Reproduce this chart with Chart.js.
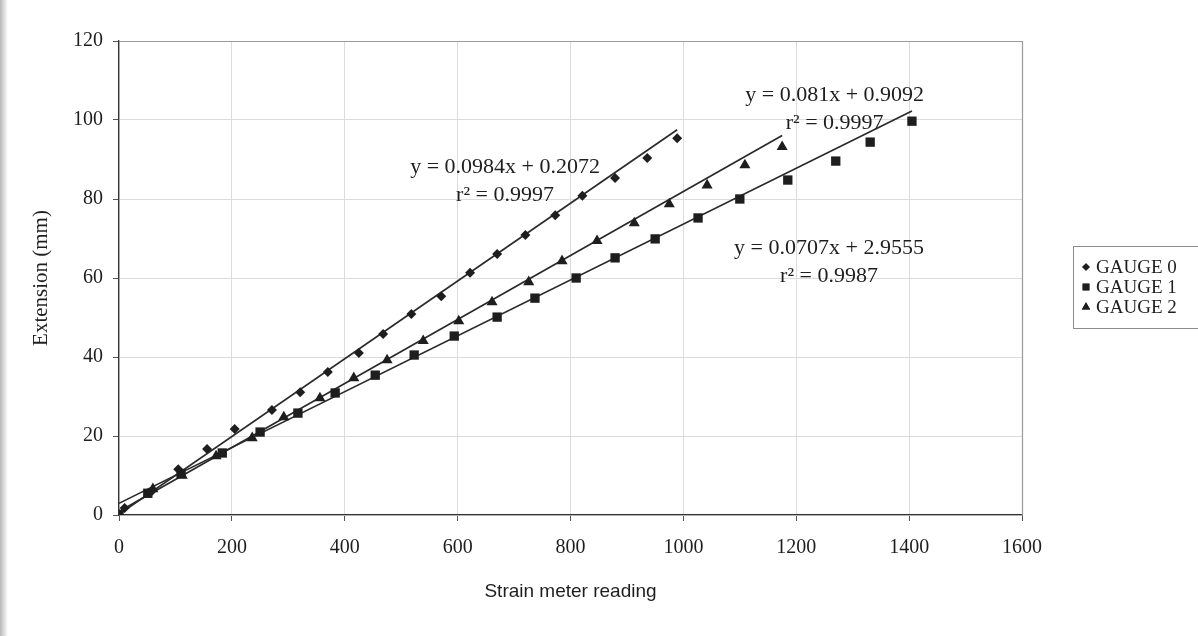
<!DOCTYPE html>
<html>
<head>
<meta charset="utf-8">
<script src="https://cdn.jsdelivr.net/npm/chart.js@4.4.1/dist/chart.umd.min.js"></script>
<style>
  html, body { margin: 0; padding: 0; background: #ffffff; }
  #wrap { width: 1198px; height: 636px; position: relative; }
</style>
</head>
<body>
<div id="wrap"><canvas id="c" width="1198" height="636"></canvas></div>
<script>
// ---- data ----
const seriesNames = ['GAUGE 0', 'GAUGE 1', 'GAUGE 2'];

const gauge0X = [0, 10, 57, 105, 156, 205, 271, 321, 370, 425, 468, 518, 571, 622, 670, 720, 773, 821, 879, 936, 989];
const gauge0Y = [0, 1.8, 5.9, 11.6, 16.7, 21.8, 26.6, 31.1, 36.2, 41.0, 45.8, 50.9, 55.4, 61.3, 66.1, 70.9, 75.9, 80.8, 85.3, 90.4, 95.4];

const gauge1X = [0, 51, 110, 183, 250, 317, 383, 454, 523, 594, 670, 737, 810, 879, 950, 1026, 1100, 1185, 1270, 1331, 1405];
const gauge1Y = [0, 5.5, 10.5, 15.7, 21.0, 25.8, 30.9, 35.4, 40.5, 45.3, 50.1, 54.9, 60.0, 65.1, 69.9, 75.2, 80.0, 84.8, 89.6, 94.4, 99.7];

const gauge2X = [0, 60, 112, 172, 236, 292, 356, 416, 475, 539, 602, 661, 726, 785, 847, 913, 975, 1042, 1109, 1175];
const gauge2Y = [0, 6.6, 10.0, 14.9, 19.5, 24.8, 29.6, 34.7, 39.2, 44.1, 49.1, 53.9, 59.0, 64.3, 69.4, 73.9, 78.7, 83.5, 88.6, 93.2];

// trendline equations printed on the chart
const trendSlopes = [0.0984, 0.0707, 0.081];
const trendIntercepts = [0.2072, 2.9555, 0.9092];
const trendR2 = ['0.9997', '0.9987', '0.9997'];
const eqLabels = ['y = 0.0984x + 0.2072', 'y = 0.0707x + 2.9555', 'y = 0.081x + 0.9092'];

const xTicks = [0, 200, 400, 600, 800, 1000, 1200, 1400, 1600];
const yTicks = [0, 20, 40, 60, 80, 100, 120];

// ---- styling ----
const SERIF = '"Liberation Serif", "Times New Roman", serif';
const INK = '#1e1e1e';
const pointStyles = ['rectRot', 'rect', 'triangle'];
const pointRadii = [5, 6.6, 6.4];
// equation anchor (data coords) for each series: [x, y of first line]
const eqAnchors = [[684, 88.1], [1258, 67.5], [1268, 106.4]];

const xs = [gauge0X, gauge1X, gauge2X];
const ys = [gauge0Y, gauge1Y, gauge2Y];

const datasets = [];
for (let i = 0; i < 3; i++) {
  datasets.push({
    label: seriesNames[i],
    type: 'scatter',
    data: xs[i].map((x, k) => ({ x: x, y: ys[i][k] })),
    pointStyle: pointStyles[i],
    pointRadius: pointRadii[i],
    pointHoverRadius: pointRadii[i],
    backgroundColor: INK,
    borderColor: INK,
    borderWidth: 0,
    showLine: false,
    order: 1
  });
}
for (let i = 0; i < 3; i++) {
  const xEnd = Math.max(...xs[i]);
  datasets.push({
    label: 'trend' + i,
    type: 'line',
    data: [0, xEnd].map(x => ({ x: x, y: trendSlopes[i] * x + trendIntercepts[i] })),
    borderColor: '#2a2a2a',
    borderWidth: 1.7,
    pointRadius: 0,
    fill: false,
    tension: 0,
    order: 2
  });
}

const decor = {
  id: 'decor',
  beforeDraw(chart) {
    const ctx = chart.ctx;
    ctx.save();
    ctx.fillStyle = '#ffffff';
    ctx.fillRect(0, 0, chart.width, chart.height);
    const g = ctx.createLinearGradient(0, 0, 8, 0);
    g.addColorStop(0, '#b8b8b8');
    g.addColorStop(1, '#ffffff');
    ctx.fillStyle = g;
    ctx.fillRect(0, 0, 8, chart.height);
    ctx.restore();
  },
  beforeDatasetsDraw(chart) {
    const { ctx, chartArea: a } = chart;
    ctx.save();
    ctx.strokeStyle = '#9a9a9a';
    ctx.lineWidth = 1.2;
    ctx.beginPath();
    ctx.moveTo(a.left, a.top + 0.5);
    ctx.lineTo(a.right + 0.5, a.top + 0.5);
    ctx.lineTo(a.right + 0.5, a.bottom);
    ctx.stroke();
    ctx.restore();
  },
  afterDraw(chart) {
    const { ctx } = chart;
    const sx = chart.scales.x, sy = chart.scales.y;
    ctx.save();
    ctx.fillStyle = INK;
    ctx.textAlign = 'center';
    ctx.textBaseline = 'middle';
    ctx.font = '22px ' + SERIF;
    for (let i = 0; i < 3; i++) {
      const px = sx.getPixelForValue(eqAnchors[i][0]);
      const py = sy.getPixelForValue(eqAnchors[i][1]);
      ctx.fillText(eqLabels[i], px, py);
      ctx.fillText('r\u00B2 = ' + trendR2[i], px, py + 28);
    }
    // legend
    const lx = 1073, ly = 246, lw = 130, lh = 82;
    ctx.strokeStyle = '#8c8c8c';
    ctx.lineWidth = 1;
    ctx.strokeRect(lx + 0.5, ly + 0.5, lw, lh);
    ctx.textAlign = 'left';
    ctx.font = '19px ' + SERIF;
    for (let i = 0; i < 3; i++) {
      const y = 267 + i * 20;
      const r = [3.8, 4.8, 4.8][i];
      Chart.helpers.drawPoint(ctx, { pointStyle: pointStyles[i], radius: r, borderWidth: 0, rotation: 0 }, 1086, y);
      ctx.fillStyle = INK;
      ctx.fill();
      ctx.fillText(seriesNames[i], 1096, y + 1);
    }
    ctx.restore();
  }
};

new Chart(document.getElementById('c'), {
  type: 'scatter',
  data: { datasets: datasets },
  options: {
    responsive: false,
    animation: false,
    devicePixelRatio: 1,
    layout: { padding: { left: 0, top: 41, right: 176, bottom: 0 } },
    plugins: {
      legend: { display: false },
      tooltip: { enabled: false }
    },
    scales: {
      x: {
        type: 'linear',
        min: 0, max: 1600,
        afterBuildTicks(scale) { scale.ticks = xTicks.map(v => ({ value: v })); },
        afterFit(scale) { scale.height = 121; },
        grid: { color: '#dcdcdc', lineWidth: 1, tickLength: 6, tickColor: '#555', drawTicks: true },
        border: { display: true, color: '#333', width: 1.3 },
        ticks: { color: INK, font: { family: SERIF, size: 20 }, padding: 15, maxRotation: 0, autoSkip: false,
                 callback: v => String(v) },
        title: { display: true, text: 'Strain meter reading', color: INK,
                 font: { family: '"Liberation Sans Narrow", "Liberation Sans", sans-serif', size: 19 },
                 padding: { top: 0, bottom: 33 } }
      },
      y: {
        type: 'linear',
        min: 0, max: 120,
        afterBuildTicks(scale) { scale.ticks = yTicks.map(v => ({ value: v })); },
        afterFit(scale) { scale.width = 119; },
        grid: { color: '#dcdcdc', lineWidth: 1, tickLength: 6, tickColor: '#555', drawTicks: true },
        border: { display: true, color: '#333', width: 1.3 },
        ticks: { color: INK, font: { family: SERIF, size: 20 }, padding: 10, autoSkip: false,
                 callback: v => String(v) },
        title: { display: true, text: 'Extension (mm)', color: INK,
                 font: { family: SERIF, size: 21 },
                 padding: { top: 29, bottom: 0 } }
      }
    }
  },
  plugins: [decor]
});
</script>
</body>
</html>
